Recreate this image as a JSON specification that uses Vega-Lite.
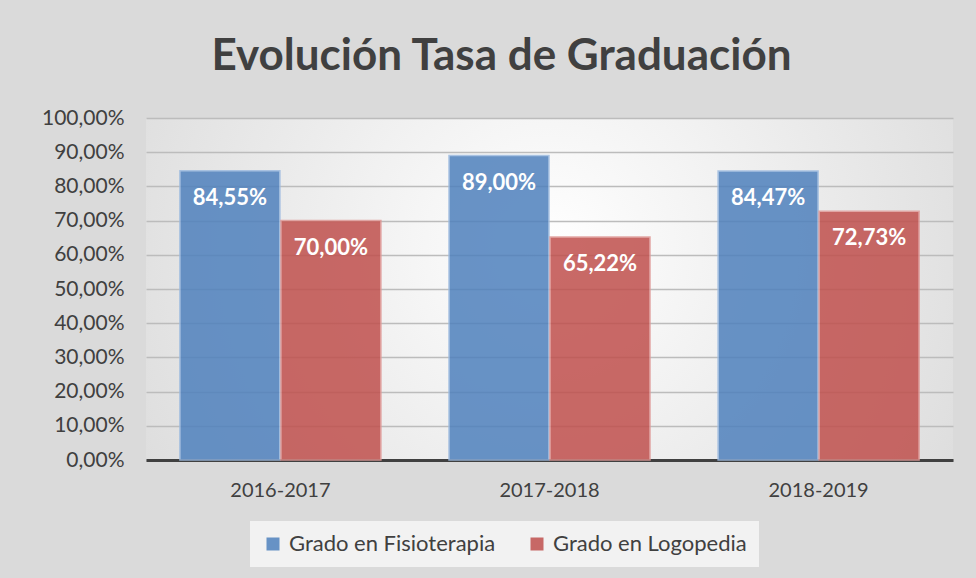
{
  "$schema": "https://vega.github.io/schema/vega-lite/v6.json",
  "autosize": "none",
  "width": 807,
  "height": 342,
  "padding": {"left": 146, "top": 118, "right": 23, "bottom": 118},
  "background": "#dadada",
  "config": {
    "locale": {"number": {"decimal": ",", "thousands": ".", "grouping": [3], "currency": ["", " €"]}},
    "font": "Lato",
    "view": {
      "stroke": null,
      "fill": {"gradient": "radial", "x1": 0.5, "y1": 0.45, "r1": 0, "x2": 0.5, "y2": 0.45, "r2": 0.8,
        "stops": [{"offset": 0, "color": "#ffffff"}, {"offset": 1, "color": "#d0d0d0"}]}
    }
  },
  "title": {
    "text": "Evolución Tasa de Graduación",
    "fontSize": 44,
    "fontWeight": "bold",
    "color": "#404040",
    "anchor": "middle",
    "dx": -48,
    "offset": 28
  },
  "data": {
    "values": [
      {"curso": "2016-2017", "grado": "Grado en Fisioterapia", "tasa": 0.8455},
      {"curso": "2016-2017", "grado": "Grado en Logopedia", "tasa": 0.70},
      {"curso": "2017-2018", "grado": "Grado en Fisioterapia", "tasa": 0.89},
      {"curso": "2017-2018", "grado": "Grado en Logopedia", "tasa": 0.6522},
      {"curso": "2018-2019", "grado": "Grado en Fisioterapia", "tasa": 0.8447},
      {"curso": "2018-2019", "grado": "Grado en Logopedia", "tasa": 0.7273}
    ]
  },
  "encoding": {
    "x": {
      "field": "curso", "type": "nominal",
      "scale": {"paddingInner": 0.253, "paddingOuter": 0.126},
      "axis": {"title": null, "labelAngle": 0, "labelFontSize": 20, "labelColor": "#404040",
        "domainColor": "#404040", "domainWidth": 3, "ticks": false, "labelPadding": 20}
    },
    "xOffset": {"field": "grado", "type": "nominal", "scale": {"paddingInner": 0.01}},
    "y": {
      "field": "tasa", "type": "quantitative",
      "scale": {"domain": [0, 1], "nice": false},
      "axis": {"title": null, "values": [0, 0.1, 0.2, 0.3, 0.4, 0.5, 0.6, 0.7, 0.8, 0.9, 1],
        "format": ".2%", "labelFontSize": 21, "labelColor": "#404040", "ticks": false,
        "domain": false, "labelPadding": 22, "gridColor": "#bcbcbc", "gridWidth": 1.5}
    }
  },
  "layer": [
    {
      "mark": {"type": "bar", "opacity": 0.85, "strokeWidth": 1.5},
      "encoding": {
        "color": {
          "field": "grado", "type": "nominal",
          "scale": {"domain": ["Grado en Fisioterapia", "Grado en Logopedia"], "range": ["#4f81bd", "#c0504d"]},
          "legend": {
            "title": null, "orient": "none", "direction": "horizontal", "legendX": 104, "legendY": 403,
            "symbolType": "square", "symbolSize": 169, "symbolStrokeWidth": 0, "symbolOpacity": 0.85,
            "labelFontSize": 22, "labelColor": "#404040", "labelOffset": 5, "columnPadding": 30,
            "fillColor": "#f2f2f2", "padding": 12, "labelLimit": 400
          }
        },
        "stroke": {
          "field": "grado", "type": "nominal",
          "scale": {"domain": ["Grado en Fisioterapia", "Grado en Logopedia"], "range": ["#9dbbe0", "#e09a98"]},
          "legend": null
        }
      }
    },
    {
      "mark": {"type": "text", "color": "white", "fontWeight": "bold", "fontSize": 22, "baseline": "middle", "dy": 27},
      "encoding": {
        "text": {"field": "tasa", "type": "quantitative", "format": ".2%"}
      }
    }
  ]
}
